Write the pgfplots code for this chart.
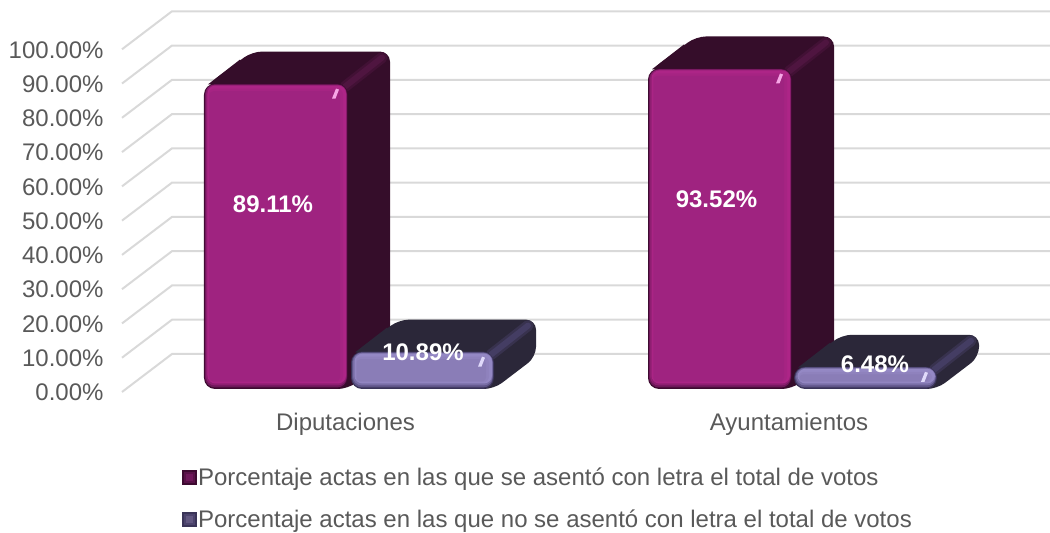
\documentclass[border=0pt]{standalone}
\usepackage{fontspec}
\setmainfont{Liberation Sans}
\usepackage{pgfplots}
\pgfplotsset{compat=1.18}
\definecolor{txt}{HTML}{595959}
\definecolor{gridc}{HTML}{D9D9D9}
% series 1
\definecolor{Aedge}{HTML}{3D0A30}
\definecolor{Amid}{HTML}{6F175A}
\definecolor{Alight}{HTML}{AD2587}
\definecolor{Amain}{HTML}{9F2380}
\definecolor{Aside}{HTML}{350D2A}
\definecolor{Astrip}{HTML}{4F1540}
\definecolor{Ahi}{HTML}{F7A6E6}
% series 2
\definecolor{Bedge}{HTML}{3A3458}
\definecolor{Bmid}{HTML}{5F5588}
\definecolor{Blight}{HTML}{9488C4}
\definecolor{Bmain}{HTML}{8A7DB7}
\definecolor{Bside}{HTML}{2B2739}
\definecolor{Bstrip}{HTML}{443D63}
\definecolor{Bhi}{HTML}{E0DAFA}
\def\py{0.2918}
\def\dx{42}
\def\dy{9.34}
% #1 x0, #2 x1, #3 value, #4 colour prefix
\newcommand{\threebar}[4]{%
  \addplot[forget plot,fill=#4side,draw=none,rounded corners=10pt] coordinates {(#1+4,{#3-0.8*\py}) ({#1+48},{#3+\dy}) ({#2+\dx},{#3+\dy}) ({#2+\dx},{\dy}) (#2,0) (#1+4,0)} --cycle;
  \addplot[forget plot,fill=#4side,draw=none] coordinates {(#1+4,{#3-0.8*\py}) ({#1+36},{#3+\dy-8*\py}) ({#1+60},{#3-3*\py})} --cycle;
  \addplot[forget plot,draw=#4side!50!#4strip,line width=11pt,line cap=round] coordinates {({#2-3},{#3-3*\py}) ({#2+\dx-8},{#3+\dy-6*\py})};
  \addplot[forget plot,draw=#4strip,line width=6pt,line cap=round] coordinates {({#2-3},{#3-3*\py}) ({#2+\dx-8},{#3+\dy-6*\py})};
  \addplot[forget plot,fill=#4edge,draw=none,rounded corners=11pt] coordinates {(#1,0) (#2,0) (#2,#3) (#1,#3)} --cycle;
  \addplot[forget plot,fill=#4mid,draw=none,rounded corners=10pt] coordinates {(#1+1,{1.5*\py}) (#2-1,{1.5*\py}) (#2-1,{#3-0.7*\py}) (#1+1,{#3-0.7*\py})} --cycle;
  \addplot[forget plot,fill=#4mid!50!#4light,draw=none,rounded corners=9pt] coordinates {(#1+2,{3.5*\py}) (#2-1.5,{3.5*\py}) (#2-1.5,{#3-1.2*\py}) (#1+2,{#3-1.2*\py})} --cycle;
  \addplot[forget plot,fill=#4light,draw=none,rounded corners=8pt] coordinates {(#1+3.5,{5.5*\py}) (#2-2,{5.5*\py}) (#2-2,{#3-2*\py}) (#1+3.5,{#3-2*\py})} --cycle;
  \addplot[forget plot,fill=#4light!50!#4main,draw=none,rounded corners=6pt] coordinates {(#1+4.5,{6.5*\py}) (#2-5,{6.5*\py}) (#2-5,{#3-5*\py}) (#1+4.5,{#3-5*\py})} --cycle;
  \addplot[forget plot,fill=#4main,draw=none,rounded corners=4pt] coordinates {(#1+5.5,{7.5*\py}) (#2-8,{7.5*\py}) (#2-8,{#3-7.5*\py}) (#1+5.5,{#3-7.5*\py})} --cycle;
  \addplot[forget plot,fill=#4hi,draw=none] coordinates {(#2-16,{#3-15*\py}) (#2-12.5,{#3-15*\py}) (#2-9,{#3-6*\py}) (#2-12,{#3-5*\py})} --cycle;
}
\begin{document}
\begin{tikzpicture}
\path[use as bounding box] (-122pt,-126.9pt) rectangle (928pt,406.1pt);
\begin{axis}[
  scale only axis, width=928pt, height=400.96pt,
  xmin=122, xmax=1050, ymin=-5, ymax=112,
  clip=false,
  axis line style={draw=none},
  major tick length=0pt,
  tick style={draw=none},
  font=\fontsize{24}{28}\selectfont,
  xtick={345.5,789},
  xticklabels={Diputaciones,Ayuntamientos},
  xticklabel style={text=txt,yshift=-3pt},
  ytick={0,10,...,100},
  yticklabels={0.00\%,10.00\%,20.00\%,30.00\%,40.00\%,50.00\%,60.00\%,70.00\%,80.00\%,90.00\%,100.00\%},
  yticklabel style={text=txt,anchor=east,yshift=-3.5pt,xshift=-15pt},
  legend style={draw=none,fill=none,at={(axis cs:181.5,-22.4)},anchor=north west,
    font=\fontsize{24}{28}\selectfont,text=txt,row sep=19pt,
    /tikz/every even column/.append style={column sep=0pt},
    inner sep=0pt,nodes={inner sep=2pt}},
  legend cell align=left,
]
% wall grid lines
\addplot[forget plot,draw=gridc,line width=2pt,unbounded coords=jump] table {
x y
122 -0.88
172 10.21
1050 10.21
nan nan
122 9.12
172 20.21
1050 20.21
nan nan
122 19.12
172 30.21
1050 30.21
nan nan
122 29.12
172 40.21
1050 40.21
nan nan
122 39.12
172 50.21
1050 50.21
nan nan
122 49.12
172 60.21
1050 60.21
nan nan
122 59.12
172 70.21
1050 70.21
nan nan
122 69.12
172 80.21
1050 80.21
nan nan
122 79.12
172 90.21
1050 90.21
nan nan
122 89.12
172 100.21
1050 100.21
nan nan
122 99.12
172 110.21
1050 110.21
};
\threebar{204}{348}{89.11}{A}
\threebar{351}{494}{10.89}{B}
\threebar{648}{792}{93.52}{A}
\threebar{794}{937}{6.48}{B}
\node[text=white,font=\fontsize{24}{28}\selectfont\bfseries] at (axis cs:273,54) {89.11\%};
\node[text=white,font=\fontsize{24}{28}\selectfont\bfseries] at (axis cs:716.5,55.3) {93.52\%};
\node[text=white,font=\fontsize{24}{28}\selectfont\bfseries] at (axis cs:423,10.8) {10.89\%};
\node[text=white,font=\fontsize{24}{28}\selectfont\bfseries] at (axis cs:875,7.3) {6.48\%};
\addlegendimage{legend image code/.code={
  \fill[Aedge] (0pt,-7pt) rectangle (14pt,7pt);
  \fill[Amid!80!black] (2pt,-5pt) rectangle (12pt,5pt);
  \fill[Amain!70!black] (4pt,-3pt) rectangle (10pt,3pt);}}
\addlegendentry{Porcentaje actas en las que se asentó con letra el total de votos}
\addlegendimage{legend image code/.code={
  \fill[Bedge] (0pt,-7pt) rectangle (14pt,7pt);
  \fill[Bmid!80!black] (2pt,-5pt) rectangle (12pt,5pt);
  \fill[Bmain!70!black] (4pt,-3pt) rectangle (10pt,3pt);}}
\addlegendentry{Porcentaje actas en las que no se asentó con letra el total de votos}
\end{axis}
\end{tikzpicture}
\end{document}
